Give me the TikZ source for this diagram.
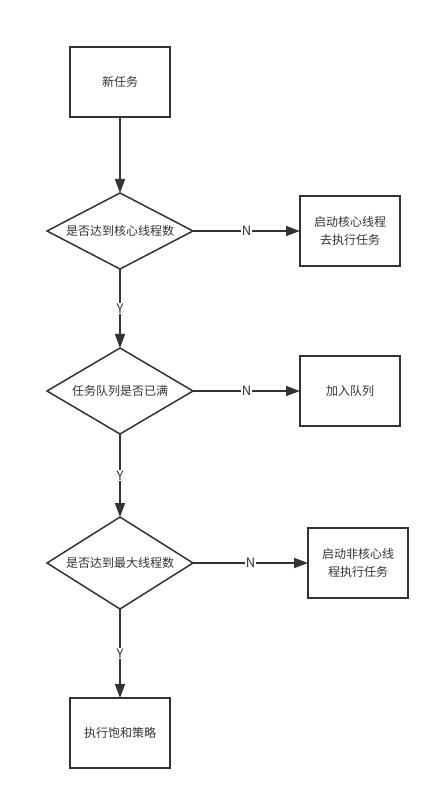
\documentclass[tikz,border=0pt]{standalone}
\usepackage{fontspec}
\setmainfont{Noto Sans CJK SC}
\usetikzlibrary{shapes.geometric, arrows.meta, positioning}
\definecolor{mline}{HTML}{333333}
\tikzstyle{task} = [rectangle, draw=mline, line width=1.5pt, minimum width=100pt, minimum height=70pt, text width=90pt, align=center, inner sep=0pt, outer sep=0pt]
\tikzstyle{decision} = [diamond, draw=mline, line width=1.5pt, minimum width=146pt, aspect=2, inner sep=0pt, outer sep=0pt, align=center]
\tikzstyle{flow} = [line width=1.5pt, draw=mline, ->, >={Triangle[length=14pt,width=10pt]}]
\tikzstyle{answer} = [fill=white, inner sep=1pt, text=mline, font=\fontsize{13}{15}\selectfont]

\begin{document}
\begin{tikzpicture}[x=1pt, y=-1pt, font=\fontsize{12}{18}\selectfont, text=mline]
  \useasboundingbox (0,0) rectangle (440,799);
  \node (start) [task] at (120,82) {新任务};
  \node (core) [decision, minimum height=76pt, below=76pt of start] {是否达到核心线程数};
  \node (runcore) [task, right=107pt of core] {启动核心线程\\去执行任务};
  \node (queue) [decision, minimum height=86pt, below=79pt of core] {任务队列是否已满};
  \node (enqueue) [task, right=107pt of queue] {加入队列};
  \node (max) [decision, minimum height=92pt, below=83pt of queue] {是否达到最大线程数};
  \node (runextra) [task, right=115pt of max] {启动非核心线\\程执行任务};
  \node (reject) [task, below=89pt of max] {执行饱和策略};
  \draw [flow] (start) -- (core);
  \draw [flow] (core) -- node[answer] {N} (runcore);
  \draw [flow] (core) -- node[answer] {Y} (queue);
  \draw [flow] (queue) -- node[answer] {N} (enqueue);
  \draw [flow] (queue) -- node[answer] {Y} (max);
  \draw [flow] (max) -- node[answer] {N} (runextra);
  \draw [flow] (max) -- node[answer] {Y} (reject);
\end{tikzpicture}
\end{document}
